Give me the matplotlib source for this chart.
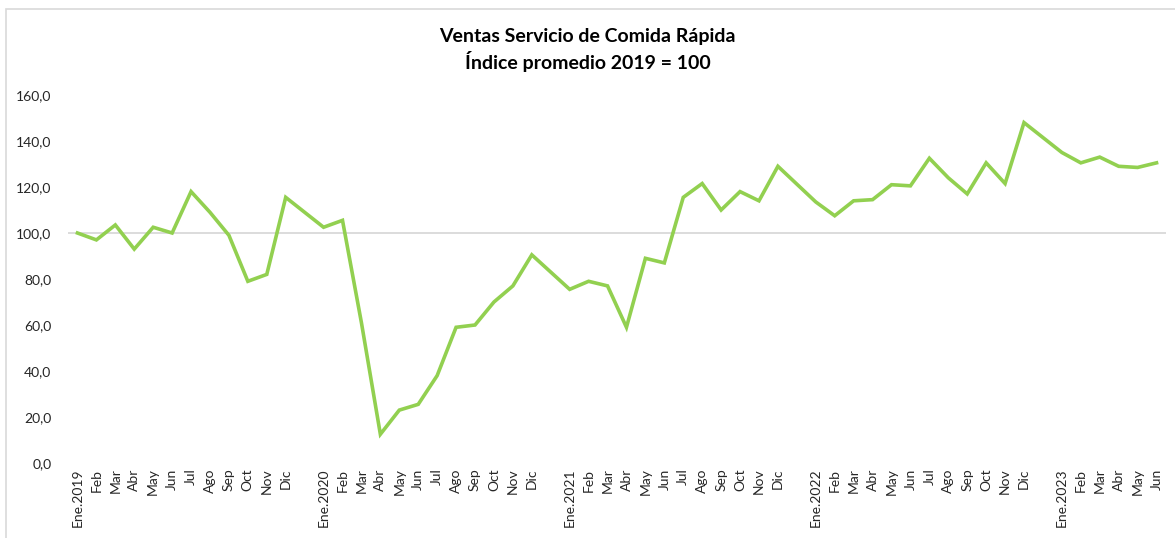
import matplotlib.pyplot as plt
from matplotlib.patches import Rectangle

plt.rcParams['font.family'] = ['Lato', 'DejaVu Sans']

months = ['Ene', 'Feb', 'Mar', 'Abr', 'May', 'Jun', 'Jul', 'Ago', 'Sep', 'Oct', 'Nov', 'Dic']
years = [2019, 2020, 2021, 2022, 2023]

v2019 = [100.0, 97.0, 103.5, 93.0, 102.5, 100.0, 118.0, 109.0, 99.0, 79.0, 82.0, 115.5]
v2020 = [102.5, 105.5, 61.0, 12.5, 23.0, 25.5, 38.0, 59.0, 60.0, 70.0, 77.0, 90.5]
v2021 = [75.5, 79.0, 77.0, 59.0, 89.0, 87.0, 115.5, 121.5, 110.0, 118.0, 114.0, 129.0]
v2022 = [113.5, 107.5, 114.0, 114.5, 121.0, 120.5, 132.5, 124.0, 117.0, 130.5, 121.5, 148.0]
v2023 = [135.0, 130.5, 133.0, 129.0, 128.5, 130.5]
series = [v2019, v2020, v2021, v2022, v2023]

# category slots: one empty slot between years
xs, ys, labels, lpos = [], [], [], []
for k, (yr, vals) in enumerate(zip(years, series)):
    for m, v in enumerate(vals):
        pos = k * 13 + m
        xs.append(pos)
        ys.append(v)
        lpos.append(pos)
        labels.append(f'Ene.{yr}' if m == 0 else months[m])

W, H = 1175, 538
fig = plt.figure(figsize=(W / 100, H / 100), dpi=100)
fig.patches.append(Rectangle((6 / W, -0.05), 1.2, 1 - 9 / H + 0.05, transform=fig.transFigure,
                             fill=False, edgecolor='#d9d9d9', linewidth=1.2))

ax = fig.add_axes([68 / W, 1 - 463 / H, (1166 - 68) / W, (463 - 95) / H])
ax.set_xlim(-0.5, xs[-1] + 0.5)
ax.set_ylim(0, 160)
ax.axhline(100, color='#d9d9d9', linewidth=1.3, zorder=1)
ax.plot(xs, ys, color='#92d050', linewidth=2.6, solid_joinstyle='miter', zorder=2)

for s in ax.spines.values():
    s.set_visible(False)
ax.set_yticks(range(0, 161, 20))
ax.set_yticklabels([f'{t},0' for t in range(0, 161, 20)], fontsize=10, color='#262626')
ax.set_xticks(lpos)
ax.set_xticklabels(labels, rotation=90, fontsize=10, color='#262626')
ax.tick_params(length=0, axis='y', pad=12)
ax.tick_params(length=0, axis='x', pad=4)

fig.text(0.5, 1 - 37 / H, 'Ventas Servicio de Comida Rápida', ha='center', va='center',
         fontsize=14, fontweight='bold')
fig.text(0.5, 1 - 61 / H, 'Índice promedio 2019 = 100', ha='center', va='center',
         fontsize=14, fontweight='bold')

fig.savefig('out.png', dpi=100)
